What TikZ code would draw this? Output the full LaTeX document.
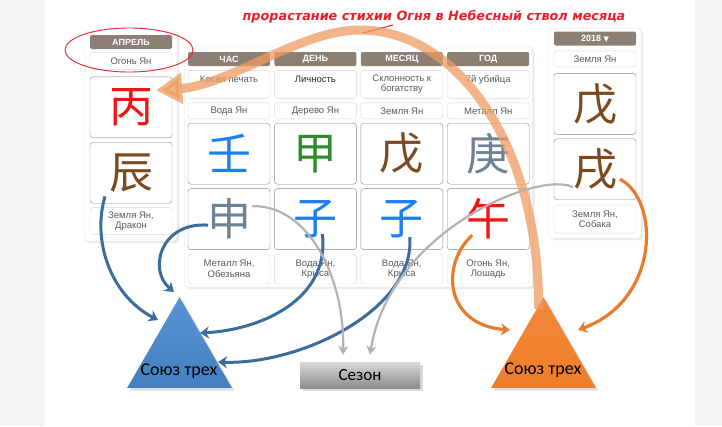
\documentclass[tikz,border=0pt]{standalone}
\usepackage{fontspec}
\setmainfont{Liberation Sans}
\newfontfamily\cjk{Noto Sans CJK SC}
\newfontfamily\calib{Carlito}
\newfontfamily\djv{DejaVu Sans}
\usetikzlibrary{arrows.meta, positioning, shapes.geometric, shadows}

\definecolor{hdrbrown}{HTML}{8C7F73}
\definecolor{cellline}{HTML}{DADADA}
\definecolor{glyphline}{HTML}{8A8A8A}
\definecolor{labelgray}{HTML}{5A5A5A}
\definecolor{firered}{HTML}{F01414}
\definecolor{earthbrown}{HTML}{7B4A1E}
\definecolor{waterblue}{HTML}{1E7EF5}
\definecolor{woodgreen}{HTML}{2E8B2E}
\definecolor{metalgray}{HTML}{6E8296}
\definecolor{arrowblue}{HTML}{3A6D9C}
\definecolor{arroworange}{HTML}{E97B2D}
\definecolor{notered}{HTML}{E8202A}
\definecolor{unionblue}{HTML}{4A8BD0}
\definecolor{unionorange}{HTML}{F07E2A}

\begin{document}
\begin{tikzpicture}[
    x=1pt, y=-1pt,
    node distance=4pt,
    >=Stealth,
    hdr/.style={rectangle, rounded corners=2pt, fill=hdrbrown, text=white, font=\bfseries\fontsize{9}{10}\selectfont, minimum width=82, minimum height=14, inner sep=0pt},
    txtcell/.style={rectangle, rounded corners=3pt, draw=cellline, fill=white, text=labelgray, font=\fontsize{9.5}{10.5}\selectfont, align=center, minimum width=82, inner sep=1pt},
    glyph/.style={rectangle, rounded corners=3pt, draw=glyphline, fill=white, minimum width=82, minimum height=61, inner sep=0pt, font=\cjk\fontsize{44}{44}\selectfont},
    frame/.style={rectangle, rounded corners=3pt, draw=black!12, fill=white, drop shadow={opacity=0.15, shadow xshift=2pt, shadow yshift=-2pt}},
    union/.style={regular polygon, regular polygon sides=3, minimum size=121, inner sep=0pt, drop shadow={opacity=0.25}},
    uniontext/.style={font=\calib\fontsize{18}{18}\selectfont, inner sep=0pt},
    bluearrow/.style={->, arrowblue, line width=3pt, arrows={-Stealth[length=9pt, width=12pt]}},
    grayarrow/.style={->, black!30, line width=2.2pt, arrows={-Stealth[length=9pt, width=10pt]}},
    orangearrow/.style={->, arroworange, line width=3.2pt, arrows={-Stealth[length=9pt, width=12pt]}}
]
\useasboundingbox (0,0) rectangle (722,426);
\fill[black!4] (0,0) rectangle (722,426);
\fill[white] (45,0) rectangle (695,426);

% frames behind the columns
\node (aprframe) [frame, minimum width=92, minimum height=210] at (131,136) {};
\node (tableframe) [frame, minimum width=348, minimum height=240] at (358.5,167) {};
\node (yrframe) [frame, minimum width=92, minimum height=210] at (595,133) {};

% month column
\node (aprhdr) [hdr] at (131,42) {АПРЕЛЬ};
\node (aprelem) [txtcell, minimum height=17, below=3pt of aprhdr] {Огонь Ян};
\node (bing) [glyph, text=firered, below=7pt of aprelem] {丙};
\node (chen) [glyph, text=earthbrown, below=of bing] {辰};
\node (aprlabel) [txtcell, minimum height=27, below=of chen] {Земля Ян,\\Дракон};

% four pillars
\node (hourhdr) [hdr] at (229,59) {ЧАС};
\node (dayhdr) [hdr, right=of hourhdr] {ДЕНЬ};
\node (monhdr) [hdr, right=of dayhdr] {МЕСЯЦ};
\node (yearhdr) [hdr, right=of monhdr] {ГОД};

\node (hourgod) [txtcell, minimum height=28, below=of hourhdr] {Косая печать\\\mbox{}};
\node (daygod) [txtcell, minimum height=28, below=of dayhdr, text=black!85] {Личность\\\mbox{}};
\node (mongod) [txtcell, minimum height=28, below=of monhdr] {Склонность к\\богатству};
\node (yeargod) [txtcell, minimum height=28, below=of yearhdr] {7й убийца\\\mbox{}};

\node (hourelem) [txtcell, minimum height=16, below=of hourgod] {Вода Ян};
\node (dayelem) [txtcell, minimum height=16, below=of daygod] {Дерево Ян};
\node (monelem) [txtcell, minimum height=16, below=of mongod] {Земля Ян};
\node (yearelem) [txtcell, minimum height=16, below=of yeargod] {Металл Ян};

\node (ren) [glyph, text=waterblue, below=of hourelem] {壬};
\node (jia) [glyph, text=woodgreen, below=of dayelem] {甲};
\node (wu) [glyph, text=earthbrown, below=of monelem] {戊};
\node (geng) [glyph, text=metalgray, below=of yearelem] {庚};

\node (shen) [glyph, text=metalgray, below=of ren] {申};
\node (ziday) [glyph, text=waterblue, below=of jia] {子};
\node (zimon) [glyph, text=waterblue, below=of wu] {子};
\node (wuhorse) [glyph, text=firered, below=of geng] {午};

\node (hourlabel) [txtcell, minimum height=30, below=of shen] {Металл Ян,\\Обезьяна};
\node (daylabel) [txtcell, minimum height=30, below=of ziday] {Вода Ян,\\Крыса};
\node (monlabel) [txtcell, minimum height=30, below=of zimon] {Вода Ян,\\Крыса};
\node (yearlabel) [txtcell, minimum height=30, below=of wuhorse] {Огонь Ян,\\Лошадь};

% year 2018 column
\node (yrhdr) [hdr] at (595,38.5) {2018 {\djv\fontsize{7}{8}\selectfont ▼}};
\node (yrelem) [txtcell, minimum height=16, below=5pt of yrhdr] {Земля Ян};
\node (wuyr) [glyph, text=earthbrown, below=6pt of yrelem] {戊};
\node (xu) [glyph, text=earthbrown, below=of wuyr] {戌};
\node (yrlabel) [txtcell, minimum height=28, below=5pt of xu] {Земля Ян,\\Собака};

% unions and season
\node (blueunion) [union, top color=unionblue!92!white, bottom color=unionblue!92!black] at (179.5,357.7) {};
\node (bluetext) [uniontext] at (179,371) {Союз трех};
\node (orangeunion) [union, top color=unionorange!92!white, bottom color=unionorange] at (543.5,357.7) {};
\node (orangetext) [uniontext] at (543,370) {Союз трех};
\node (season) [rectangle, minimum width=120, minimum height=26, top color=black!15, bottom color=black!45, font=\calib\fontsize{17}{17}\selectfont, drop shadow={opacity=0.3}] at (360,375) {Сезон};

% note on top
\node (growthnote) [text=notered, font=\djv\bfseries\itshape\fontsize{12.8}{14}\selectfont] at (434,17) {прорастание стихии Огня в Небесный ствол месяца};
\draw[notered, line width=1pt] (393,25) -- (363,33);
\draw[notered, line width=0.9pt] (129,50) ellipse [x radius=64, y radius=22];

% fire of the year grows into the month stem
\draw[arroworange!75, opacity=0.75, line width=9pt, arrows={-Triangle[length=26pt, width=30pt]}]
    ([xshift=-5pt, yshift=-12pt]orangeunion.corner 1) .. controls (540,150) and (460,30) .. (360,30)
    .. controls (300,30) and (230,85) .. ([xshift=-16pt, yshift=17pt]bing.east);

% three harmonies
\draw[bluearrow] ([xshift=-26pt, yshift=7pt]chen.south) .. controls (92,240) and (110,295) .. (158,320);
\draw[bluearrow] ([xshift=-21pt, yshift=-6pt]shen.center) .. controls (160,222) and (148,270) .. (174,292);
\draw[bluearrow] ([xshift=7pt, yshift=-15pt]ziday.center) .. controls (330,300) and (260,330) .. (200,333);
\draw[bluearrow] ([xshift=8pt, yshift=-18pt]zimon.center) .. controls (415,310) and (300,365) .. (218,362);

\draw[grayarrow] ([xshift=23pt, yshift=13pt]shen.center) .. controls (310,205) and (345,280) .. ([xshift=-17pt, yshift=7pt]season.north);
\draw[grayarrow] ([xshift=-22pt, yshift=-18pt]xu.center) .. controls (540,170) and (390,230) .. ([xshift=10pt, yshift=7pt]season.north);

\draw[orangearrow] ([xshift=-16pt, yshift=-16pt]wuhorse.center) .. controls (440,265) and (445,325) .. (510,330);
\draw[orangearrow] ([xshift=25pt, yshift=-10pt]xu.center) .. controls (660,200) and (660,300) .. (578,330);
\end{tikzpicture}
\end{document}
